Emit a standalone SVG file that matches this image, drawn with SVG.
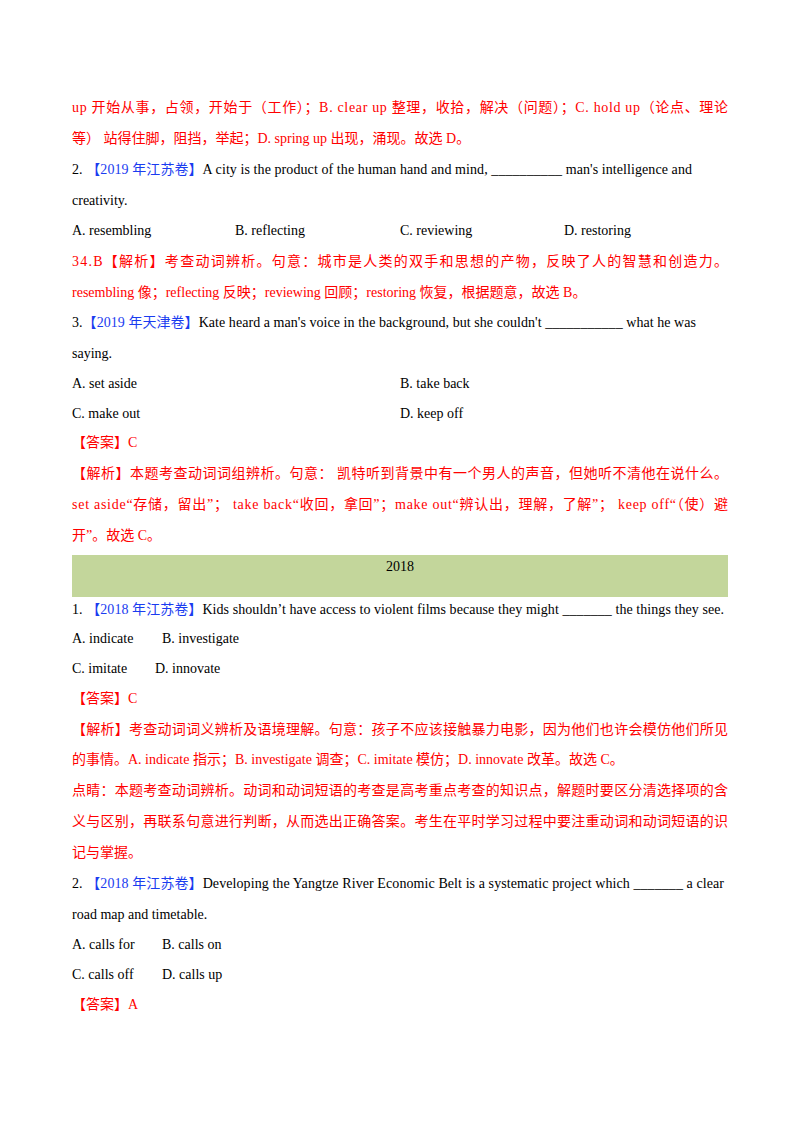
<svg xmlns="http://www.w3.org/2000/svg" width="800" height="1132" viewBox="0 0 800 1132">
<style>
text{font-family:"Liberation Serif","Noto Sans CJK SC",serif;font-size:14px;fill:#000}
.r{fill:#ff0000}
.b{fill:#1a3cf0}
</style>
<rect width="800" height="1132" fill="#fff"/>
<rect x="72" y="555" width="656" height="42" fill="#c3d69b"/>
<text class="r" x="72" y="112" textLength="656" lengthAdjust="spacing">up 开始从事，占领，开始于（工作）；B. clear up 整理，收拾，解决（问题）；C. hold up（论点、理论</text>
<text class="r" x="72" y="143">等） 站得住脚，阻挡，举起；D. spring up 出现，涌现。故选 D。</text>
<text x="72" y="174" textLength="620" lengthAdjust="spacing">2. <tspan class="b">【2019 年江苏卷】</tspan>A city is the product of the human hand and mind, __________ man's intelligence and</text>
<text x="72" y="205">creativity.</text>
<text x="72" y="235">A. resembling</text>
<text x="235" y="235">B. reflecting</text>
<text x="400" y="235">C. reviewing</text>
<text x="564" y="235">D. restoring</text>
<text class="r" x="72" y="266" textLength="656" lengthAdjust="spacing">34.B【解析】考查动词辨析。句意：城市是人类的双手和思想的产物，反映了人的智慧和创造力。</text>
<text class="r" x="72" y="297">resembling 像；reflecting 反映；reviewing 回顾；restoring 恢复，根据题意，故选 B。</text>
<text x="72" y="327" textLength="624" lengthAdjust="spacing">3.<tspan class="b">【2019 年天津卷】</tspan>Kate heard a man's voice in the background, but she couldn't ___________ what he was</text>
<text x="72" y="358">saying.</text>
<text x="72" y="388">A. set aside</text>
<text x="400" y="388">B. take back</text>
<text x="72" y="418">C. make out</text>
<text x="400" y="418">D. keep off</text>
<text class="r" x="72" y="447">【答案】C</text>
<text class="r" x="72" y="478" textLength="656" lengthAdjust="spacing">【解析】本题考查动词词组辨析。句意： 凯特听到背景中有一个男人的声音，但她听不清他在说什么。</text>
<text class="r" x="72" y="509" textLength="656" lengthAdjust="spacing">set aside“存储，留出”；  take back“收回，拿回”；make out“辨认出，理解，了解”；  keep off“（使）避</text>
<text class="r" x="72" y="540">开”。故选 C。</text>
<text x="400" y="571" text-anchor="middle">2018</text>
<text x="72" y="614" textLength="652" lengthAdjust="spacing">1. <tspan class="b">【2018 年江苏卷】</tspan>Kids shouldn’t have access to violent films because they might _______ the things they see.</text>
<text x="72" y="643">A. indicate</text>
<text x="162" y="643">B. investigate</text>
<text x="72" y="673">C. imitate</text>
<text x="155" y="673">D. innovate</text>
<text class="r" x="72" y="703">【答案】C</text>
<text class="r" x="72" y="734" textLength="656" lengthAdjust="spacing">【解析】考查动词词义辨析及语境理解。句意：孩子不应该接触暴力电影，因为他们也许会模仿他们所见</text>
<text class="r" x="72" y="764">的事情。A. indicate 指示；B. investigate 调查；C. imitate 模仿；D. innovate 改革。故选 C。</text>
<text class="r" x="72" y="795" textLength="656" lengthAdjust="spacing">点睛：本题考查动词辨析。动词和动词短语的考查是高考重点考查的知识点，解题时要区分清选择项的含</text>
<text class="r" x="72" y="826" textLength="656" lengthAdjust="spacing">义与区别，再联系句意进行判断，从而选出正确答案。考生在平时学习过程中要注重动词和动词短语的识</text>
<text class="r" x="72" y="857">记与掌握。</text>
<text x="72" y="888" textLength="652" lengthAdjust="spacing">2. <tspan class="b">【2018 年江苏卷】</tspan>Developing the Yangtze River Economic Belt is a systematic project which _______ a clear</text>
<text x="72" y="919">road map and timetable.</text>
<text x="72" y="949">A. calls for</text>
<text x="162" y="949">B. calls on</text>
<text x="72" y="979">C. calls off</text>
<text x="162" y="979">D. calls up</text>
<text class="r" x="72" y="1009">【答案】A</text>
</svg>
